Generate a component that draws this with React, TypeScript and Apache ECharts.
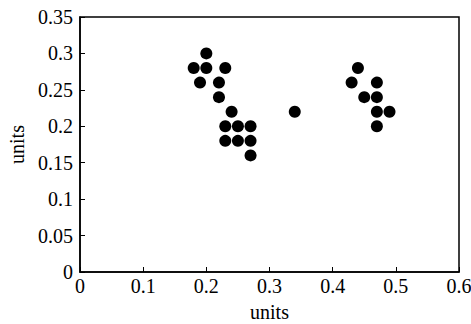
import React, { useEffect, useRef } from "react";
import * as echarts from "echarts";

const xValues = [0.18, 0.2, 0.2, 0.23, 0.19, 0.22, 0.22, 0.24, 0.23, 0.25, 0.27, 0.23, 0.25, 0.27, 0.27, 0.34, 0.44, 0.43, 0.47, 0.45, 0.47, 0.47, 0.49, 0.47];
const yValues = [0.28, 0.3, 0.28, 0.28, 0.26, 0.26, 0.24, 0.22, 0.2, 0.2, 0.2, 0.18, 0.18, 0.18, 0.16, 0.22, 0.28, 0.26, 0.26, 0.24, 0.24, 0.22, 0.22, 0.2];

const FONT = "Liberation Serif";
const FS = 20;

export default function App() {
  const ref = useRef<HTMLDivElement>(null);
  useEffect(() => {
    if (!ref.current) return;
    const chart = echarts.init(ref.current, undefined, { renderer: "svg" });
    const data = xValues.map((x, i) => [x, yValues[i]]);
    chart.setOption({
      animation: false,
      backgroundColor: "#fff",
      grid: {
        left: 80,
        right: 12,
        top: 17,
        bottom: 52,
        show: true,
        borderColor: "#000",
        borderWidth: 1.5,
        outerBoundsMode: "none",
        containLabel: false,
      },
      xAxis: {
        type: "value",
        min: 0,
        max: 0.6,
        interval: 0.1,
        name: "units",
        nameLocation: "middle",
        nameGap: 30,
        nameTextStyle: { fontFamily: FONT, fontSize: FS, color: "#000" },
        axisLine: { show: true, lineStyle: { color: "#000", width: 1.5 } },
        axisTick: { show: true, inside: true, length: 5, lineStyle: { color: "#000" } },
        axisLabel: { fontFamily: FONT, fontSize: FS, color: "#000", margin: 4 },
        splitLine: { show: false },
      },
      yAxis: {
        type: "value",
        min: 0,
        max: 0.35,
        interval: 0.05,
        name: "units",
        nameLocation: "middle",
        nameGap: 51,
        nameTextStyle: { fontFamily: FONT, fontSize: FS, color: "#000" },
        axisLine: { show: true, lineStyle: { color: "#000", width: 1.5 } },
        axisTick: { show: true, inside: true, length: 5, lineStyle: { color: "#000" } },
        axisLabel: { fontFamily: FONT, fontSize: FS, color: "#000", margin: 7 },
        splitLine: { show: false },
      },
      series: [
        {
          type: "scatter",
          data,
          symbol: "circle",
          symbolSize: 12,
          itemStyle: { color: "#000", opacity: 1 },
        },
      ],
    });
    return () => chart.dispose();
  }, []);
  return <div ref={ref} style={{ width: 471, height: 324, position: "absolute", left: 0, top: 0 }} />;
}
